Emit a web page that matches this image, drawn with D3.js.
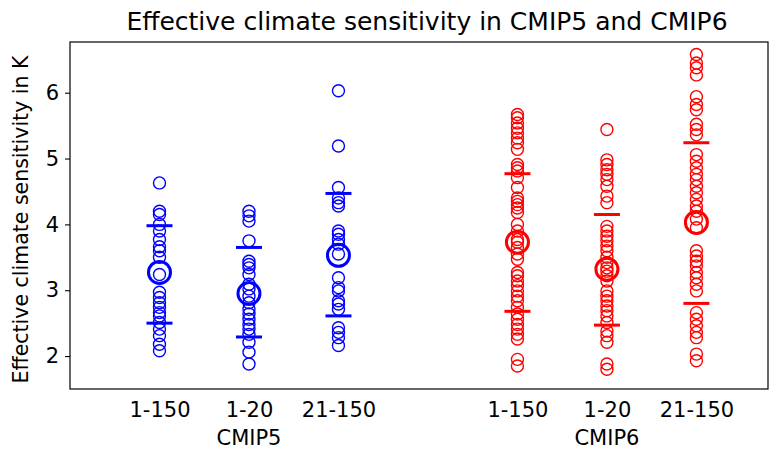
<!DOCTYPE html>
<html>
<head>
<meta charset="utf-8">
<script src="https://cdn.jsdelivr.net/npm/d3@7"></script>
<style>
  body { margin: 0; background: #fff; }
  svg { display: block; font-family: "DejaVu Sans", sans-serif; }
</style>
</head>
<body>
<svg id="chart" width="772" height="450"></svg>
<script>
const categories = ["1-150", "1-20", "21-150", "1-150", "1-20", "21-150"];
const groups = ["CMIP5", "CMIP6"];
const positions = [0, 1, 2, 4, 5, 6];
const groupPositions = [1, 5];
const colors = ["#0000ff", "#0000ff", "#0000ff", "#ff0000", "#ff0000", "#ff0000"];

const cmip5_1_150 = [4.63, 4.20, 4.15, 4.00, 3.90, 3.77, 3.66, 3.60, 3.50, 3.24, 2.97, 2.89, 2.81, 2.74, 2.66, 2.61, 2.51, 2.41, 2.31, 2.18, 2.08];
const cmip5_1_20 = [4.20, 4.13, 4.05, 3.75, 3.44, 3.39, 3.34, 3.24, 3.09, 3.02, 2.91, 2.81, 2.71, 2.64, 2.56, 2.48, 2.41, 2.33, 2.21, 2.06, 1.88];
const cmip5_21_150 = [6.03, 5.19, 4.56, 4.40, 4.33, 4.28, 3.90, 3.85, 3.77, 3.70, 3.55, 3.19, 3.04, 2.99, 2.84, 2.79, 2.71, 2.43, 2.36, 2.28, 2.16];
const cmip6_1_150 = [5.67, 5.62, 5.54, 5.46, 5.39, 5.31, 5.24, 5.14, 4.91, 4.86, 4.81, 4.71, 4.56, 4.40, 4.35, 4.30, 4.25, 4.18, 4.00, 3.90, 3.77, 3.73, 3.65, 3.55, 3.47, 3.27, 3.22, 3.14, 3.07, 2.99, 2.91, 2.84, 2.74, 2.64, 2.56, 2.48, 2.41, 2.33, 2.26, 1.95, 1.85];
const cmip6_1_20 = [5.44, 4.98, 4.91, 4.83, 4.76, 4.68, 4.58, 4.43, 4.33, 3.97, 3.90, 3.82, 3.75, 3.67, 3.60, 3.50, 3.42, 3.34, 3.29, 3.22, 3.14, 2.99, 2.91, 2.84, 2.76, 2.69, 2.61, 2.51, 2.38, 2.31, 2.21, 1.88, 1.80];
const cmip6_21_150 = [6.58, 6.45, 6.38, 6.27, 5.94, 5.82, 5.74, 5.52, 5.44, 5.36, 5.06, 4.96, 4.86, 4.76, 4.68, 4.58, 4.48, 4.38, 4.28, 4.20, 4.08, 3.95, 3.60, 3.52, 3.44, 3.37, 3.27, 3.19, 3.09, 2.99, 2.66, 2.56, 2.46, 2.36, 2.28, 2.03, 1.93];

const means = [3.27, 2.95, 3.53, 3.73, 3.32, 4.03];
const sdHigh = [3.98, 3.65, 4.47, 4.77, 4.15, 5.24];
const sdLow = [2.50, 2.29, 2.61, 2.68, 2.47, 2.80];

const yTicks = [2, 3, 4, 5, 6];

const series = [cmip5_1_150, cmip5_1_20, cmip5_21_150, cmip6_1_150, cmip6_1_20, cmip6_21_150];

const svg = d3.select("#chart");
const L = 70, R = 768, T = 42, B = 389;

const x = d3.scaleLinear().domain([-1, 6.8]).range([L, R]);
const y = d3.scaleLinear().domain([1.5, 6.77]).range([B, T]);

// y axis
const yAxis = svg.append("g")
  .attr("transform", `translate(${L},0)`)
  .call(d3.axisLeft(y).tickValues(yTicks).tickFormat(d3.format("d")).tickSize(5).tickPadding(6));
yAxis.select(".domain").remove();
yAxis.selectAll(".tick line").attr("stroke", "#000").attr("stroke-width", 1.1);
yAxis.selectAll(".tick text").attr("font-size", 21).attr("fill", "#000").attr("font-family", "DejaVu Sans");

// x axis labels (no tick marks)
const xAxis = svg.append("g")
  .attr("transform", `translate(0,${B})`)
  .call(d3.axisBottom(x).tickValues(positions).tickFormat((d, i) => categories[i]).tickSize(0).tickPadding(13));
xAxis.select(".domain").remove();
xAxis.selectAll(".tick text").attr("font-size", 21).attr("fill", "#000").attr("font-family", "DejaVu Sans");

// group labels
svg.append("g").selectAll("text").data(groups).join("text")
  .attr("x", (d, i) => x(groupPositions[i]))
  .attr("y", 445)
  .attr("text-anchor", "middle")
  .attr("font-size", 21)
  .text(d => d);

// points
series.forEach((vals, i) => {
  svg.append("g").selectAll("circle").data(vals).join("circle")
    .attr("cx", x(positions[i]))
    .attr("cy", d => y(d))
    .attr("r", 6)
    .attr("fill", "none")
    .attr("stroke", colors[i])
    .attr("stroke-width", 1.4);
});

// sd bars
const sdG = svg.append("g");
positions.forEach((p, i) => {
  [sdHigh[i], sdLow[i]].forEach(v => {
    sdG.append("line")
      .attr("x1", x(p) - 13).attr("x2", x(p) + 13)
      .attr("y1", y(v)).attr("y2", y(v))
      .attr("stroke", colors[i]).attr("stroke-width", 3);
  });
});

// means
svg.append("g").selectAll("circle").data(means).join("circle")
  .attr("cx", (d, i) => x(positions[i]))
  .attr("cy", d => y(d))
  .attr("r", 11)
  .attr("fill", "none")
  .attr("stroke", (d, i) => colors[i])
  .attr("stroke-width", 3);

// frame
svg.append("rect")
  .attr("x", L).attr("y", T).attr("width", R - L).attr("height", B - T)
  .attr("fill", "none").attr("stroke", "#000").attr("stroke-width", 1.2);

// title
svg.append("text")
  .attr("x", (L + R) / 2 + 8).attr("y", 30)
  .attr("text-anchor", "middle")
  .attr("font-size", 25)
  .text("Effective climate sensitivity in CMIP5 and CMIP6");

// y label
svg.append("text")
  .attr("transform", `translate(28,${(T + B) / 2 + 4}) rotate(-90)`)
  .attr("text-anchor", "middle")
  .attr("font-size", 20.5)
  .text("Effective climate sensitivity in K");
</script>
</body>
</html>
